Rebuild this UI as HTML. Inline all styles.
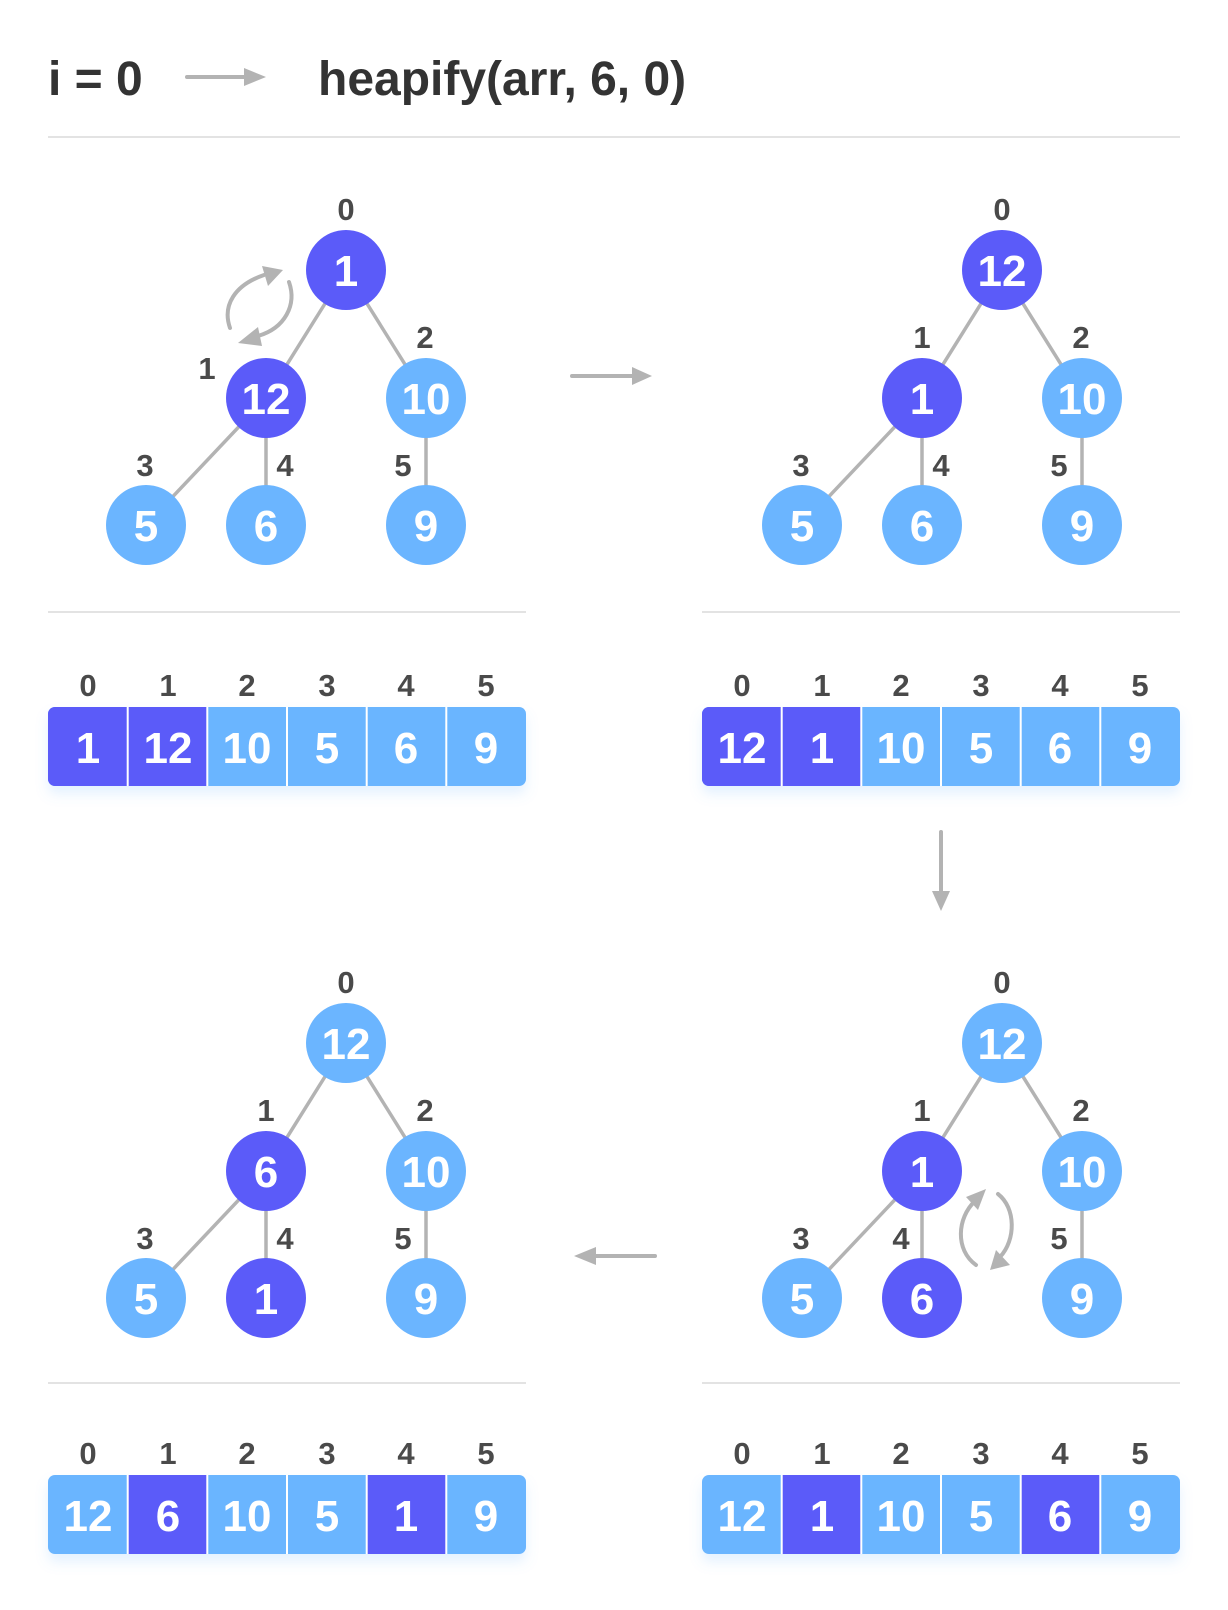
<!DOCTYPE html>
<html><head><meta charset="utf-8"><style>
html,body{margin:0;padding:0;background:#fff}
svg{display:block}
text{font-family:"Liberation Sans","DejaVu Sans",sans-serif;font-weight:bold}
.v{fill:#fff;font-size:44px;text-anchor:middle}
.l{fill:#4a4a4a;font-size:31px;text-anchor:middle}
.e{stroke:#b3b3b3;stroke-width:3.5}
.d{fill:#5b5bf9}.b{fill:#6bb5ff}
.a{stroke:#b3b3b3;stroke-width:4;fill:none;stroke-linecap:round}
.h{fill:#b3b3b3}
</style></head><body>
<svg width="1228" height="1610" viewBox="0 0 1228 1610" xmlns="http://www.w3.org/2000/svg">
<defs>
<filter id="sh" x="-10%" y="-20%" width="120%" height="160%"><feDropShadow dx="0" dy="8" stdDeviation="6" flood-color="#6bb5ff" flood-opacity="0.18"/></filter>
</defs>
<!-- header -->
<text x="48" y="95" style="font-size:48px;fill:#333">i = 0</text>
<line x1="187" y1="77" x2="246" y2="77" class="a"/>
<polygon points="244,68 266,77 244,86" class="h"/>
<text x="318" y="95" style="font-size:48px;fill:#333">heapify(arr, 6, 0)</text>
<line x1="48" y1="137" x2="1180" y2="137" stroke="#e3e3e3" stroke-width="2"/>

<!-- TL tree -->
<g transform="translate(346,270)">
<line x1="0" y1="0" x2="-80" y2="128" class="e"/><line x1="0" y1="0" x2="80" y2="128" class="e"/>
<line x1="-80" y1="128" x2="-200" y2="255" class="e"/><line x1="-80" y1="128" x2="-80" y2="255" class="e"/>
<line x1="80" y1="128" x2="80" y2="255" class="e"/>
<circle cx="0" cy="0" r="40" class="d"/><circle cx="-80" cy="128" r="40" class="d"/><circle cx="80" cy="128" r="40" class="b"/>
<circle cx="-200" cy="255" r="40" class="b"/><circle cx="-80" cy="255" r="40" class="b"/><circle cx="80" cy="255" r="40" class="b"/>
<text class="v" x="0" y="16">1</text><text class="v" x="-80" y="144">12</text><text class="v" x="80" y="144">10</text>
<text class="v" x="-200" y="271">5</text><text class="v" x="-80" y="271">6</text><text class="v" x="80" y="271">9</text>
<text class="l" x="0" y="-50">0</text><text class="l" x="-139" y="109">1</text><text class="l" x="79" y="78">2</text>
<text class="l" x="-201" y="206">3</text><text class="l" x="-61" y="206">4</text><text class="l" x="57" y="206">5</text>
</g>
<path d="M230,328 C222,305 235,285 264,275" class="a"/>
<polygon points="283,270 262,266 268,286" class="h"/>
<path d="M289,282 C297,305 285,328 258,336" class="a"/>
<polygon points="238,343 258,327 262,346" class="h"/>

<!-- TR tree -->
<g transform="translate(1002,270)">
<line x1="0" y1="0" x2="-80" y2="128" class="e"/><line x1="0" y1="0" x2="80" y2="128" class="e"/>
<line x1="-80" y1="128" x2="-200" y2="255" class="e"/><line x1="-80" y1="128" x2="-80" y2="255" class="e"/>
<line x1="80" y1="128" x2="80" y2="255" class="e"/>
<circle cx="0" cy="0" r="40" class="d"/><circle cx="-80" cy="128" r="40" class="d"/><circle cx="80" cy="128" r="40" class="b"/>
<circle cx="-200" cy="255" r="40" class="b"/><circle cx="-80" cy="255" r="40" class="b"/><circle cx="80" cy="255" r="40" class="b"/>
<text class="v" x="0" y="16">12</text><text class="v" x="-80" y="144">1</text><text class="v" x="80" y="144">10</text>
<text class="v" x="-200" y="271">5</text><text class="v" x="-80" y="271">6</text><text class="v" x="80" y="271">9</text>
<text class="l" x="0" y="-50">0</text><text class="l" x="-80" y="78">1</text><text class="l" x="79" y="78">2</text>
<text class="l" x="-201" y="206">3</text><text class="l" x="-61" y="206">4</text><text class="l" x="57" y="206">5</text>
</g>

<!-- middle arrows -->
<line x1="572" y1="376" x2="634" y2="376" class="a"/><polygon points="632,367 652,376 632,385" class="h"/>
<line x1="941" y1="832" x2="941" y2="893" class="a"/><polygon points="932,891 941,911 950,891" class="h"/>
<line x1="655" y1="1256" x2="594" y2="1256" class="a"/><polygon points="596,1247 574,1256 596,1265" class="h"/>

<!-- separators -->
<line x1="48" y1="612" x2="526" y2="612" stroke="#e3e3e3" stroke-width="2"/>
<line x1="702" y1="612" x2="1180" y2="612" stroke="#e3e3e3" stroke-width="2"/>
<line x1="48" y1="1383" x2="526" y2="1383" stroke="#e3e3e3" stroke-width="2"/>
<line x1="702" y1="1383" x2="1180" y2="1383" stroke="#e3e3e3" stroke-width="2"/>

<!-- arrays -->
<g transform="translate(48,707)">
<rect x="0" y="0" width="478" height="79" rx="7" class="b" filter="url(#sh)"/>
<path d="M7,0 H159 V79 H7 A7,7 0 0 1 0,72 V7 A7,7 0 0 1 7,0Z" class="d"/>
<g stroke="#fff" stroke-width="2"><line x1="79.7" y1="0" x2="79.7" y2="79"/><line x1="159.3" y1="0" x2="159.3" y2="79"/><line x1="239" y1="0" x2="239" y2="79"/><line x1="318.7" y1="0" x2="318.7" y2="79"/><line x1="398.3" y1="0" x2="398.3" y2="79"/></g>
<text class="v" x="40" y="56">1</text><text class="v" x="120" y="56">12</text><text class="v" x="199" y="56">10</text><text class="v" x="279" y="56">5</text><text class="v" x="358" y="56">6</text><text class="v" x="438" y="56">9</text>
<text class="l" x="40" y="-11">0</text><text class="l" x="120" y="-11">1</text><text class="l" x="199" y="-11">2</text><text class="l" x="279" y="-11">3</text><text class="l" x="358" y="-11">4</text><text class="l" x="438" y="-11">5</text>
</g>
<g transform="translate(702,707)">
<rect x="0" y="0" width="478" height="79" rx="7" class="b" filter="url(#sh)"/>
<path d="M7,0 H159 V79 H7 A7,7 0 0 1 0,72 V7 A7,7 0 0 1 7,0Z" class="d"/>
<g stroke="#fff" stroke-width="2"><line x1="79.7" y1="0" x2="79.7" y2="79"/><line x1="159.3" y1="0" x2="159.3" y2="79"/><line x1="239" y1="0" x2="239" y2="79"/><line x1="318.7" y1="0" x2="318.7" y2="79"/><line x1="398.3" y1="0" x2="398.3" y2="79"/></g>
<text class="v" x="40" y="56">12</text><text class="v" x="120" y="56">1</text><text class="v" x="199" y="56">10</text><text class="v" x="279" y="56">5</text><text class="v" x="358" y="56">6</text><text class="v" x="438" y="56">9</text>
<text class="l" x="40" y="-11">0</text><text class="l" x="120" y="-11">1</text><text class="l" x="199" y="-11">2</text><text class="l" x="279" y="-11">3</text><text class="l" x="358" y="-11">4</text><text class="l" x="438" y="-11">5</text>
</g>

<!-- BL tree -->
<g transform="translate(346,1043)">
<line x1="0" y1="0" x2="-80" y2="128" class="e"/><line x1="0" y1="0" x2="80" y2="128" class="e"/>
<line x1="-80" y1="128" x2="-200" y2="255" class="e"/><line x1="-80" y1="128" x2="-80" y2="255" class="e"/>
<line x1="80" y1="128" x2="80" y2="255" class="e"/>
<circle cx="0" cy="0" r="40" class="b"/><circle cx="-80" cy="128" r="40" class="d"/><circle cx="80" cy="128" r="40" class="b"/>
<circle cx="-200" cy="255" r="40" class="b"/><circle cx="-80" cy="255" r="40" class="d"/><circle cx="80" cy="255" r="40" class="b"/>
<text class="v" x="0" y="16">12</text><text class="v" x="-80" y="144">6</text><text class="v" x="80" y="144">10</text>
<text class="v" x="-200" y="271">5</text><text class="v" x="-80" y="271">1</text><text class="v" x="80" y="271">9</text>
<text class="l" x="0" y="-50">0</text><text class="l" x="-80" y="78">1</text><text class="l" x="79" y="78">2</text>
<text class="l" x="-201" y="206">3</text><text class="l" x="-61" y="206">4</text><text class="l" x="57" y="206">5</text>
</g>

<!-- BR tree -->
<g transform="translate(1002,1043)">
<line x1="0" y1="0" x2="-80" y2="128" class="e"/><line x1="0" y1="0" x2="80" y2="128" class="e"/>
<line x1="-80" y1="128" x2="-200" y2="255" class="e"/><line x1="-80" y1="128" x2="-80" y2="255" class="e"/>
<line x1="80" y1="128" x2="80" y2="255" class="e"/>
<circle cx="0" cy="0" r="40" class="b"/><circle cx="-80" cy="128" r="40" class="d"/><circle cx="80" cy="128" r="40" class="b"/>
<circle cx="-200" cy="255" r="40" class="b"/><circle cx="-80" cy="255" r="40" class="d"/><circle cx="80" cy="255" r="40" class="b"/>
<text class="v" x="0" y="16">12</text><text class="v" x="-80" y="144">1</text><text class="v" x="80" y="144">10</text>
<text class="v" x="-200" y="271">5</text><text class="v" x="-80" y="271">6</text><text class="v" x="80" y="271">9</text>
<text class="l" x="0" y="-50">0</text><text class="l" x="-80" y="78">1</text><text class="l" x="79" y="78">2</text>
<text class="l" x="-201" y="206">3</text><text class="l" x="-101" y="206">4</text><text class="l" x="57" y="206">5</text>
</g>
<path d="M976,1265 C955,1250 957,1218 975,1201" class="a"/>
<polygon points="986,1189 966,1197 978,1210" class="h"/>
<path d="M998,1194 C1016,1208 1016,1240 1000,1257" class="a"/>
<polygon points="990,1270 1010,1265 996,1250" class="h"/>

<!-- bottom arrays -->
<g transform="translate(48,1475)">
<rect x="0" y="0" width="478" height="79" rx="7" class="b" filter="url(#sh)"/>
<rect x="79.7" y="0" width="79.6" height="79" class="d"/>
<rect x="318.7" y="0" width="79.6" height="79" class="d"/>
<g stroke="#fff" stroke-width="2"><line x1="79.7" y1="0" x2="79.7" y2="79"/><line x1="159.3" y1="0" x2="159.3" y2="79"/><line x1="239" y1="0" x2="239" y2="79"/><line x1="318.7" y1="0" x2="318.7" y2="79"/><line x1="398.3" y1="0" x2="398.3" y2="79"/></g>
<text class="v" x="40" y="56">12</text><text class="v" x="120" y="56">6</text><text class="v" x="199" y="56">10</text><text class="v" x="279" y="56">5</text><text class="v" x="358" y="56">1</text><text class="v" x="438" y="56">9</text>
<text class="l" x="40" y="-11">0</text><text class="l" x="120" y="-11">1</text><text class="l" x="199" y="-11">2</text><text class="l" x="279" y="-11">3</text><text class="l" x="358" y="-11">4</text><text class="l" x="438" y="-11">5</text>
</g>
<g transform="translate(702,1475)">
<rect x="0" y="0" width="478" height="79" rx="7" class="b" filter="url(#sh)"/>
<rect x="79.7" y="0" width="79.6" height="79" class="d"/>
<rect x="318.7" y="0" width="79.6" height="79" class="d"/>
<g stroke="#fff" stroke-width="2"><line x1="79.7" y1="0" x2="79.7" y2="79"/><line x1="159.3" y1="0" x2="159.3" y2="79"/><line x1="239" y1="0" x2="239" y2="79"/><line x1="318.7" y1="0" x2="318.7" y2="79"/><line x1="398.3" y1="0" x2="398.3" y2="79"/></g>
<text class="v" x="40" y="56">12</text><text class="v" x="120" y="56">1</text><text class="v" x="199" y="56">10</text><text class="v" x="279" y="56">5</text><text class="v" x="358" y="56">6</text><text class="v" x="438" y="56">9</text>
<text class="l" x="40" y="-11">0</text><text class="l" x="120" y="-11">1</text><text class="l" x="199" y="-11">2</text><text class="l" x="279" y="-11">3</text><text class="l" x="358" y="-11">4</text><text class="l" x="438" y="-11">5</text>
</g>
</svg>
</body></html>
